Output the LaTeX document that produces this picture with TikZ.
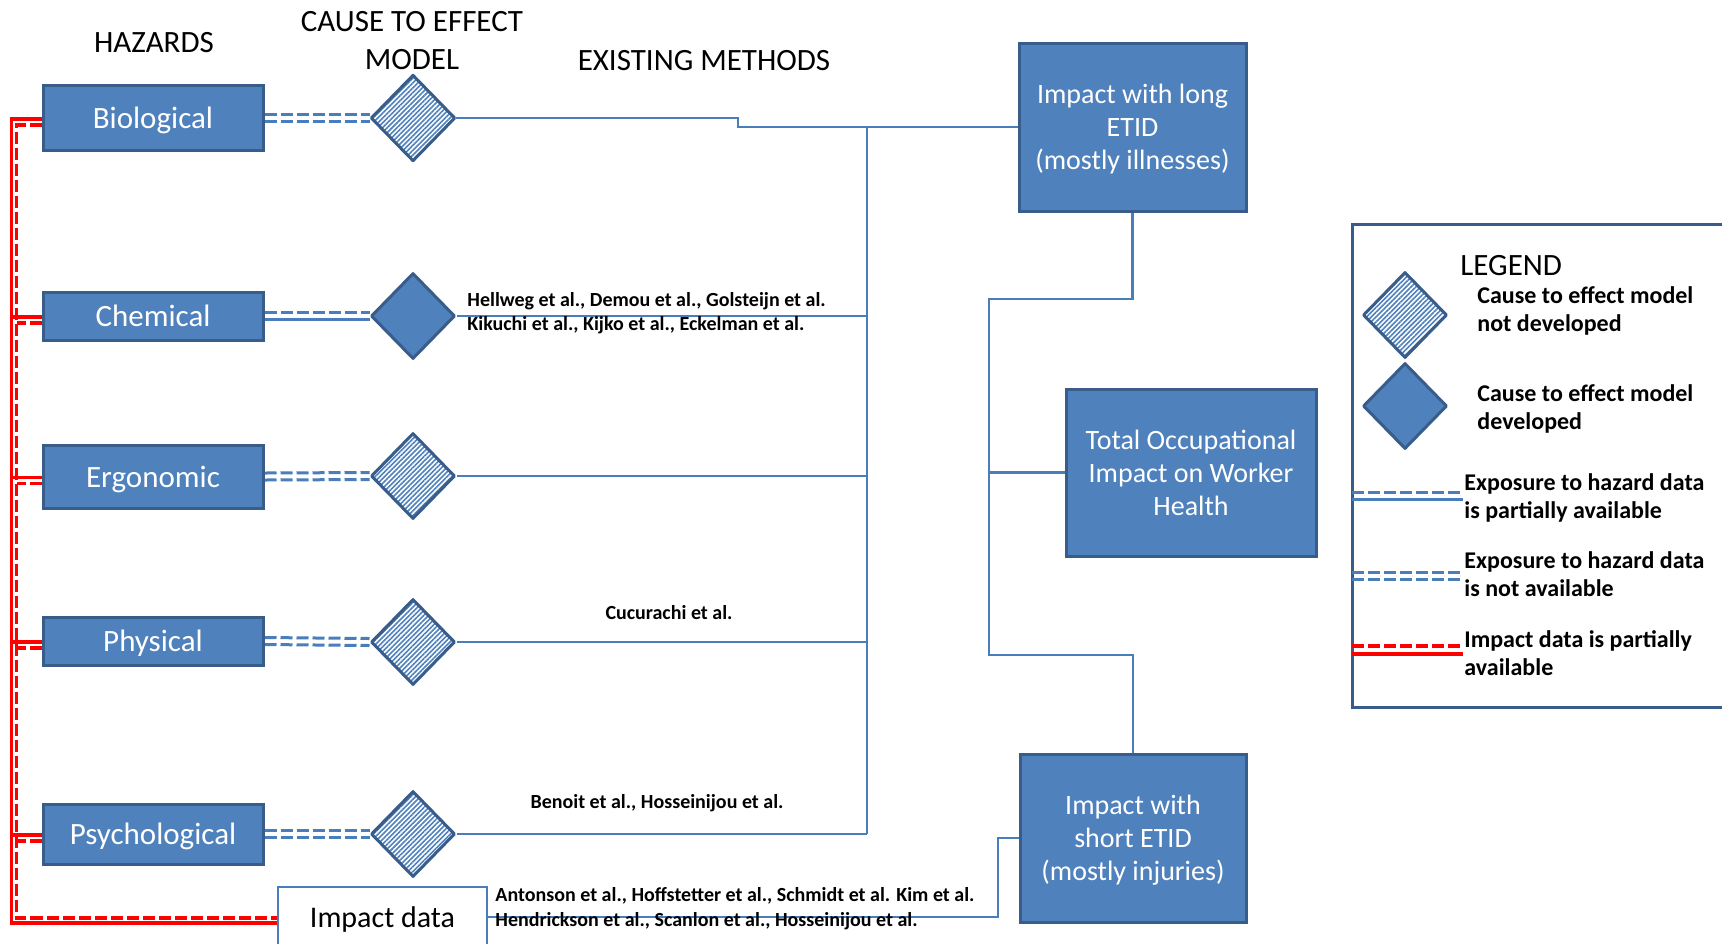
\documentclass[tikz,border=0pt]{standalone}
\usepackage{fontspec}
\setmainfont{Carlito}
\usetikzlibrary{shapes.geometric,patterns.meta,backgrounds}

\definecolor{boxfill}{HTML}{4F81BD}
\definecolor{boxedge}{HTML}{385D8A}
\definecolor{linkblue}{HTML}{4A7EBB}
\definecolor{impred}{HTML}{FF0000}

% a line whose descenders do not count towards the text depth
\newcommand{\nodepth}[1]{\raisebox{0pt}[\height][0pt]{#1}}

\tikzset{
  hazard/.style={draw=boxedge, line width=1.5pt, fill=boxfill, text=white,
    minimum width=110pt, inner sep=0pt, text height=10.8pt, text depth=0pt,
    font=\fontsize{15.5}{18}\selectfont},
  impactbox/.style={draw=boxedge, line width=1.5pt, fill=boxfill, text=white,
    align=center, inner sep=0pt, font=\fontsize{14}{16.5}\selectfont},
  model/.style={diamond, draw=boxedge, line width=1.5pt, line join=round,
    minimum width=42pt, minimum height=43pt, inner sep=0pt},
  hatched/.style={model, preaction={fill=white},
    pattern={Lines[angle=45,distance=1.7pt,line width=0.8pt]}, pattern color=boxfill},
  solidmodel/.style={model, fill=boxfill},
  link/.style={draw=linkblue, line width=1.1pt},
  exposure/.style={draw=linkblue, line width=1.5pt},
  gap/.style={dash pattern=on 6pt off 2pt},
  impline/.style={draw=impred, line width=1.7pt},
  header/.style={font=\fontsize{15.5}{19}\selectfont, align=center, inner sep=0pt},
  cite/.style={font=\bfseries\fontsize{10}{12.3}\selectfont, align=left, inner sep=0pt},
  legtext/.style={font=\bfseries\fontsize{12}{14}\selectfont, align=left, anchor=west, inner sep=0pt},
}

\begin{document}
\begin{tikzpicture}[x=0.5pt,y=-0.5pt]
\useasboundingbox (0,0) rectangle (1722,943);

% column headers
\node[header] (h-haz) at (154,43) {HAZARDS};
\node[header] (h-model) at (412,41) {CAUSE TO EFFECT\\MODEL};
\node[header] (h-meth) at (704,61) {EXISTING METHODS};

% hazard categories
\node[hazard, minimum height=32.5pt] (bio)  at (153,118)   {Biological};
\node[hazard, minimum height=24pt]   (chem) at (153,316)   {Chemical};
\node[hazard, minimum height=31.5pt] (ergo) at (153,476.5) {Ergonomic};
\node[hazard, minimum height=24pt]   (phys) at (153,641)   {Physical};
\node[hazard, minimum height=30pt]   (psy)  at (153,834)   {Psychological};

% cause to effect models
\node[hatched]    (bio-m)  at (413,118) {};
\node[solidmodel] (chem-m) at (413,316) {};
\node[hatched]    (ergo-m) at (413,476) {};
\node[hatched]    (phys-m) at (413,642) {};
\node[hatched]    (psy-m)  at (413,834) {};

% impact data source
\node[draw=linkblue, line width=0.8pt, fill=white, minimum width=104.5pt,
      minimum height=30pt, inner sep=0pt, text height=10pt, text depth=0pt,
      font=\fontsize{15}{18}\selectfont]
      (impact) at (382.5,917) {Impact data};

% impact categories
\node[impactbox, minimum width=113.5pt, minimum height=84pt] (long)  at (1132.5,127)
  {Impact with long\\ETID\\\nodepth{(mostly illnesses)}};
\node[impactbox, minimum width=125pt,   minimum height=83.5pt] (total) at (1191,472.5)
  {Total Occupational\\Impact on Worker\\Health};
\node[impactbox, minimum width=113pt,   minimum height=84pt] (short) at (1133,838)
  {Impact with\\short ETID\\\nodepth{(mostly injuries)}};

% existing methods
\node[cite, anchor=west] (cite-chem) at (467,313)
  {Hellweg et al., Demou et al., Golsteijn et al.\\Kikuchi et al., Kijko et al., Eckelman et al.};
\node[cite] (cite-phys) at (669,613) {Cucurachi et al.};
\node[cite] (cite-psy)  at (657,803) {Benoit et al., Hosseinijou et al.};
\node[cite, anchor=west] (cite-imp) at (495,908.5)
  {Antonson et al., Hoffstetter et al., Schmidt et al. Kim et al.\\Hendrickson et al., Scanlon et al., Hosseinijou et al.};

\coordinate (bus) at (867,0);
\coordinate (jn-a) at (989,299);
\coordinate (jn-b) at (989,655);

\begin{scope}[on background layer]
  % exposure data links
  \foreach \h in {bio, ergo, phys, psy} {
    \draw[exposure,gap] ([yshift=1.75pt]\h.east) -- ([yshift=1.75pt]\h-m.west);
    \draw[exposure,gap] ([yshift=-1.75pt]\h.east) -- ([yshift=-1.75pt]\h-m.west);
  }
  \draw[exposure,gap] ([yshift=1.75pt]chem.east) -- ([yshift=1.75pt]chem-m.west);
  \draw[exposure] ([yshift=-1.75pt]chem.east) -- ([yshift=-1.75pt]chem-m.west);

  % impact data links
  \draw[impline] ([yshift=-0.5pt]bio.west) -- ++(-30,0) |- ([yshift=-3pt]impact.west);
  \draw[impline,gap] ([yshift=-3.5pt]bio.west) -- ++(-25,0) |- ([yshift=-0.5pt]impact.west);
  \foreach \h in {chem, ergo, phys, psy} {
    \draw[impline] ([yshift=-0.5pt]\h.west) -- ++(-30,0);
    \draw[impline,gap] ([yshift=-3.5pt]\h.west) -- ++(-25,0);
  }

  % models to impacts
  \draw[link] (bio-m.east) -- ++(282,0) |- (long.west);
  \draw[link] (bus |- long.west) -- (bus |- psy-m.east);
  \foreach \m in {chem-m, ergo-m, phys-m, psy-m}
    \draw[link] (\m.east) -- (bus |- \m.east);
  \draw[link] (long.south) |- (jn-a) -- (jn-b) -| (short.north);
  \draw[link] (jn-a |- total.west) -- (total.west);
  \draw[link] (impact.east) -- ++(510,0) |- (short.west);
\end{scope}

% legend
\draw[draw=boxedge, line width=1.5pt] (1730,224) -- (1352,224) -- (1352,707) -- (1730,707);
\node[anchor=west, inner sep=0pt, font=\fontsize{15.5}{18}\selectfont] (leg-title) at (1460,266) {LEGEND};
\node[hatched]    (leg-h) at (1405,315) {};
\node[solidmodel] (leg-s) at (1405,406) {};
\node[legtext] (leg-h-t) at (1477,311) {Cause to effect model\\not developed};
\node[legtext] (leg-s-t) at (1477,409) {Cause to effect model\\developed};
\node[legtext] (leg-p-t) at (1464,498) {Exposure to hazard data\\is partially available};
\node[legtext] (leg-n-t) at (1464,574.5) {Exposure to hazard data\\is not available};
\node[legtext] (leg-r-t) at (1464,653) {Impact data is partially\\available};
\draw[exposure,gap] (1352,492) -- (1463,492);
\draw[exposure]     (1352,499) -- (1463,499);
\draw[exposure,gap] (1352,572) -- (1463,572);
\draw[exposure,gap] (1352,579) -- (1463,579);
\draw[impline,gap]  (1352,646) -- (1463,646);
\draw[impline]      (1352,654) -- (1463,654);
\end{tikzpicture}
\end{document}
